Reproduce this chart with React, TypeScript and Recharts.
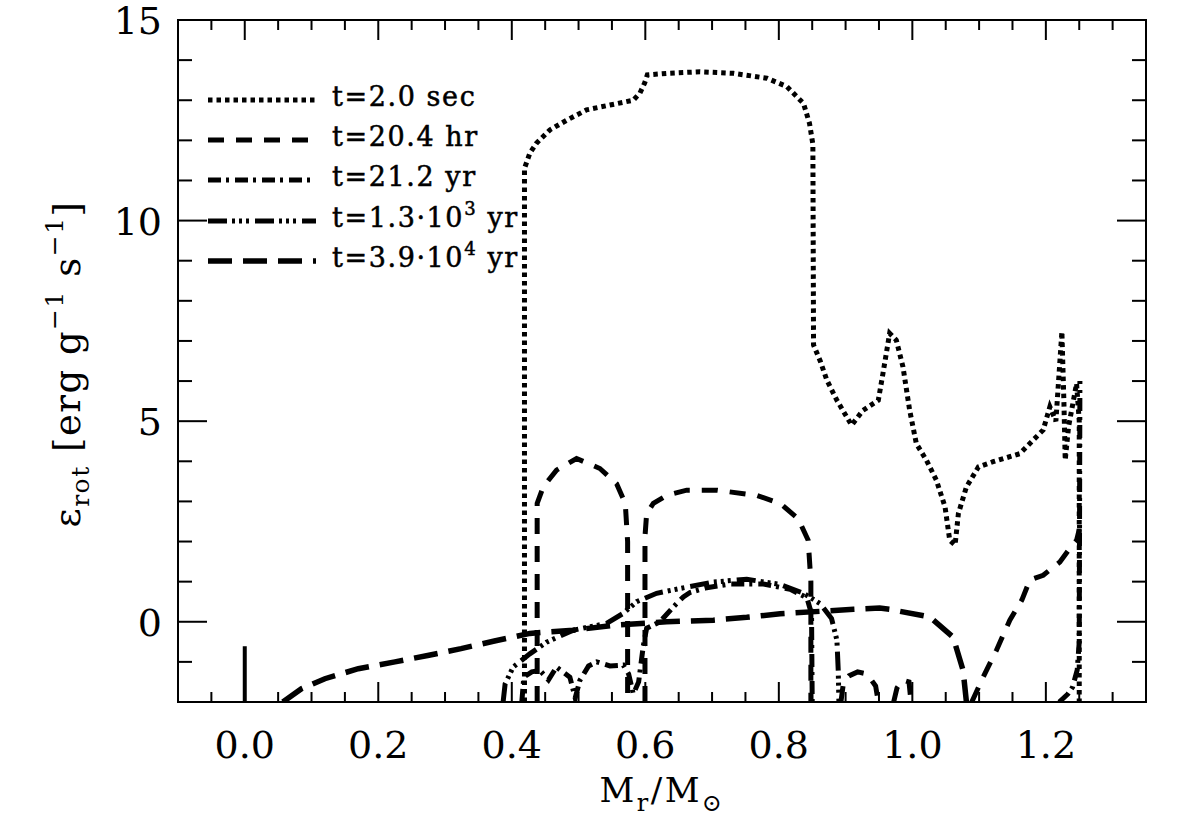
import React from "react";
import { LineChart, Line, XAxis, YAxis, ReferenceArea, Legend } from "recharts";

// ---- data ----
type P = { x: number; y: number | null };

const sec2: P[] = [
  { x: 0.419, y: -2 }, { x: 0.419, y: 11.3 }, { x: 0.427, y: 11.68 }, { x: 0.437, y: 11.93 },
  { x: 0.457, y: 12.26 }, { x: 0.482, y: 12.5 }, { x: 0.512, y: 12.76 }, { x: 0.547, y: 12.88 },
  { x: 0.582, y: 13.0 }, { x: 0.592, y: 13.18 }, { x: 0.599, y: 13.43 }, { x: 0.603, y: 13.63 },
  { x: 0.632, y: 13.67 }, { x: 0.682, y: 13.71 }, { x: 0.732, y: 13.67 }, { x: 0.782, y: 13.55 },
  { x: 0.812, y: 13.34 }, { x: 0.837, y: 12.92 }, { x: 0.846, y: 12.42 }, { x: 0.851, y: 11.9 },
  { x: 0.852, y: 6.9 }, { x: 0.862, y: 6.5 }, { x: 0.872, y: 6.02 }, { x: 0.887, y: 5.52 },
  { x: 0.909, y: 4.9 }, { x: 0.926, y: 5.27 }, { x: 0.949, y: 5.52 }, { x: 0.956, y: 6.19 },
  { x: 0.966, y: 7.19 }, { x: 0.976, y: 7.02 }, { x: 0.986, y: 6.35 }, { x: 0.996, y: 5.27 },
  { x: 1.006, y: 4.44 }, { x: 1.021, y: 4.03 }, { x: 1.036, y: 3.53 }, { x: 1.049, y: 2.86 },
  { x: 1.056, y: 2.03 }, { x: 1.064, y: 1.91 }, { x: 1.069, y: 2.7 }, { x: 1.081, y: 3.36 },
  { x: 1.099, y: 3.86 }, { x: 1.121, y: 3.99 }, { x: 1.161, y: 4.19 }, { x: 1.181, y: 4.53 },
  { x: 1.196, y: 4.78 }, { x: 1.206, y: 5.36 }, { x: 1.215, y: 5.0 }, { x: 1.224, y: 7.23 },
  { x: 1.227, y: 5.5 }, { x: 1.229, y: 4.03 }, { x: 1.234, y: 4.86 }, { x: 1.246, y: 5.94 },
  { x: 1.25, y: 5.0 }, { x: 1.25, y: -2 },
];

const hr20: P[] = [
  { x: 0.438, y: -2 }, { x: 0.438, y: 2.95 }, { x: 0.447, y: 3.36 }, { x: 0.467, y: 3.78 },
  { x: 0.497, y: 4.07 }, { x: 0.532, y: 3.82 }, { x: 0.557, y: 3.44 }, { x: 0.57, y: 2.95 },
  { x: 0.5735, y: 2.0 }, { x: 0.5735, y: -2 }, { x: 0.585, y: null },
  { x: 0.5995, y: -2 }, { x: 0.5995, y: 2.12 }, { x: 0.602, y: 2.7 }, { x: 0.612, y: 2.95 },
  { x: 0.632, y: 3.15 }, { x: 0.662, y: 3.28 }, { x: 0.707, y: 3.28 }, { x: 0.767, y: 3.15 },
  { x: 0.802, y: 2.95 }, { x: 0.829, y: 2.57 }, { x: 0.844, y: 2.03 }, { x: 0.848, y: 1.0 },
  { x: 0.848, y: -2 }, { x: 0.87, y: null },
  { x: 0.893, y: -2 }, { x: 0.897, y: -1.5 }, { x: 0.905, y: -1.35 }, { x: 0.918, y: -1.25 },
  { x: 0.932, y: -1.3 }, { x: 0.945, y: -1.6 }, { x: 0.949, y: -2 }, { x: 0.96, y: null },
  { x: 0.972, y: -2 }, { x: 0.977, y: -1.65 }, { x: 0.985, y: -1.45 }, { x: 0.995, y: -1.5 },
  { x: 0.998, y: -2 }, { x: 1.05, y: null },
  { x: 1.089, y: -2 }, { x: 1.106, y: -1.38 }, { x: 1.126, y: -0.71 }, { x: 1.146, y: 0.04 },
  { x: 1.164, y: 0.54 }, { x: 1.176, y: 1.04 }, { x: 1.196, y: 1.16 }, { x: 1.221, y: 1.49 },
  { x: 1.236, y: 1.83 }, { x: 1.246, y: 2.03 }, { x: 1.25, y: 2.3 },
];

const yr21: P[] = [
  { x: 0.415, y: -2 }, { x: 0.418, y: -1.38 }, { x: 0.43, y: -1.25 }, { x: 0.442, y: -1.21 },
  { x: 0.455, y: -1.45 }, { x: 0.467, y: -1.13 }, { x: 0.487, y: -1.38 }, { x: 0.495, y: -1.9 },
  { x: 0.502, y: -1.46 }, { x: 0.515, y: -1.1 }, { x: 0.527, y: -1.0 }, { x: 0.547, y: -1.1 },
  { x: 0.567, y: -1.08 }, { x: 0.575, y: -1.3 }, { x: 0.582, y: -1.8 }, { x: 0.59, y: -1.5 },
  { x: 0.597, y: -0.6 }, { x: 0.602, y: -0.16 }, { x: 0.622, y: 0.0 }, { x: 0.642, y: 0.37 },
  { x: 0.657, y: 0.62 }, { x: 0.667, y: 0.73 }, { x: 0.692, y: 0.85 }, { x: 0.727, y: 0.94 },
  { x: 0.777, y: 0.94 }, { x: 0.817, y: 0.81 }, { x: 0.842, y: 0.6 }, { x: 0.849, y: 0.2 },
  { x: 0.85, y: -2 }, { x: 1.0, y: null },
  { x: 1.22, y: -2 }, { x: 1.233, y: -1.8 }, { x: 1.24, y: -1.63 }, { x: 1.247, y: -1.2 },
  { x: 1.25, y: -0.5 }, { x: 1.251, y: 6.0 },
];

const yr1300: P[] = [
  { x: 0.387, y: -2 }, { x: 0.39, y: -1.55 }, { x: 0.402, y: -1.13 }, { x: 0.427, y: -0.8 },
  { x: 0.452, y: -0.51 }, { x: 0.492, y: -0.21 }, { x: 0.542, y: -0.04 }, { x: 0.567, y: 0.21 },
  { x: 0.587, y: 0.5 }, { x: 0.617, y: 0.71 }, { x: 0.652, y: 0.83 }, { x: 0.702, y: 0.99 },
  { x: 0.752, y: 1.06 }, { x: 0.802, y: 0.93 }, { x: 0.837, y: 0.71 }, { x: 0.862, y: 0.45 },
  { x: 0.879, y: 0.08 }, { x: 0.887, y: -0.46 }, { x: 0.889, y: -1.21 }, { x: 0.89, y: -2 },
];

const yr39000: P[] = [
  { x: 0.057, y: -2 }, { x: 0.085, y: -1.67 }, { x: 0.12, y: -1.42 }, { x: 0.17, y: -1.17 },
  { x: 0.225, y: -1.0 }, { x: 0.274, y: -0.84 }, { x: 0.324, y: -0.67 }, { x: 0.374, y: -0.48 },
  { x: 0.427, y: -0.29 }, { x: 0.492, y: -0.21 }, { x: 0.557, y: -0.08 }, { x: 0.632, y: 0.0 },
  { x: 0.702, y: 0.04 }, { x: 0.752, y: 0.11 }, { x: 0.802, y: 0.2 }, { x: 0.912, y: 0.31 },
  { x: 0.951, y: 0.34 }, { x: 0.966, y: 0.31 }, { x: 1.026, y: 0.12 }, { x: 1.061, y: -0.38 },
  { x: 1.076, y: -1.21 }, { x: 1.081, y: -2 },
];

const centreBar: P[] = [{ x: 0.0, y: -2 }, { x: 0.0, y: -0.61 }];

const X_TICKS = [
  -0.05, 0, 0.05, 0.1, 0.15, 0.2, 0.25, 0.3, 0.35, 0.4, 0.45, 0.5, 0.55, 0.6, 0.65, 0.7,
  0.75, 0.8, 0.85, 0.9, 0.95, 1.0, 1.05, 1.1, 1.15, 1.2, 1.25, 1.3,
];
const X_MAJOR = [0, 0.2, 0.4, 0.6, 0.8, 1.0, 1.2];
const Y_TICKS = [-1, 0, 1, 2, 3, 4, 5, 6, 7, 8, 9, 10, 11, 12, 13, 14, 15];
const Y_MAJOR = [0, 5, 10, 15];

const LEGEND_LABELS = ["t=2.0 sec", "t=20.4 hr", "t=21.2 yr", "t=1.3·10", "t=3.9·10"];
const LEGEND_SUP = ["", "", "", "3", "4"];

// ---- styling / layout ----
const W = 1179;
const H = 825;
const TOP = 20;
const BOTTOM = 702;
const LEFT = 178;
const RIGHT = 1146;
const FONT = "'DejaVu Serif', serif";

const DASHES = [
  { dash: "4.5 4", width: 5 },
  { dash: "16 12", width: 5 },
  { dash: "13 5 3 6", width: 5 },
  { dash: "19 5 3 4 3 4 3 6", width: 5 },
  { dash: "24 11", width: 5.5 },
];

const isIn = (arr: number[], v: number) => arr.some((a) => Math.abs(a - v) < 1e-6);

const XTick = (props: any) => {
  const { x, payload } = props;
  const v = payload.value as number;
  const major = isIn(X_MAJOR, v);
  const len = major ? 20 : 10;
  return (
    <g>
      <line x1={x} x2={x} y1={BOTTOM} y2={BOTTOM - len} stroke="#000" strokeWidth={2} />
      <line x1={x} x2={x} y1={TOP} y2={TOP + len} stroke="#000" strokeWidth={2} />
      {major && (
        <text x={x} y={758} textAnchor="middle" fontFamily={FONT} fontSize={38} fill="#000">
          {v.toFixed(1)}
        </text>
      )}
    </g>
  );
};

const YTick = (props: any) => {
  const { y, payload } = props;
  const v = payload.value as number;
  const major = isIn(Y_MAJOR, v);
  const len = major ? 29 : 14;
  return (
    <g>
      {v < 15 && <line x1={LEFT} x2={LEFT + len} y1={y} y2={y} stroke="#000" strokeWidth={2} />}
      {v < 15 && <line x1={RIGHT - len} x2={RIGHT} y1={y} y2={y} stroke="#000" strokeWidth={2} />}
      {major && (
        <text x={162} y={y + 14} textAnchor="end" fontFamily={FONT} fontSize={38} fill="#000">
          {String(v)}
        </text>
      )}
    </g>
  );
};

const LegendBox = () => {
  const rows = [100, 140, 180, 221, 261];
  return (
    <svg width={520} height={300} style={{ position: "absolute", left: 0, top: 0, overflow: "visible" }}>
      {rows.map((ry, i) => (
        <g key={i}>
          <line x1={208} x2={316} y1={ry} y2={ry} stroke="#000" strokeWidth={DASHES[i].width} strokeDasharray={DASHES[i].dash} />
          <text x={332} y={ry + 6} fontFamily={FONT} fontSize={27} letterSpacing={1.6} fill="#000" stroke="#000" strokeWidth={0.5}>
            {LEGEND_LABELS[i]}
            {LEGEND_SUP[i] && (
              <tspan fontSize={18} dy={-12}>{LEGEND_SUP[i]}</tspan>
            )}
            {LEGEND_SUP[i] && <tspan dy={12}>{" yr"}</tspan>}
          </text>
        </g>
      ))}
    </svg>
  );
};

export default function App() {
  const series = [sec2, hr20, yr21, yr1300, yr39000];
  return (
    <div style={{ position: "absolute", left: 0, top: 0, width: W, height: H, background: "#fff" }}>
      <LineChart width={W} height={H} margin={{ top: 20, right: 33, left: 118, bottom: 83 }}>
        <XAxis
          dataKey="x"
          type="number"
          domain={[-0.1, 1.35]}
          allowDataOverflow
          ticks={X_TICKS}
          interval={0}
          tick={<XTick />}
          tickLine={false}
          axisLine={false}
          height={40}
        />
        <YAxis
          type="number"
          domain={[-2, 15]}
          allowDataOverflow
          ticks={Y_TICKS}
          interval={0}
          tick={<YTick />}
          tickLine={false}
          axisLine={false}
          width={60}
        />
        <ReferenceArea x1={-0.1} x2={1.35} y1={-2} y2={15} fill="none" fillOpacity={0} stroke="#000" strokeWidth={2} ifOverflow="visible" />
        {series.map((d, i) => (
          <Line
            key={i}
            data={d}
            dataKey="y"
            type="linear"
            stroke="#000"
            strokeWidth={DASHES[i].width}
            strokeDasharray={DASHES[i].dash}
            dot={false}
            activeDot={false}
            connectNulls={false}
            isAnimationActive={false}
            strokeLinecap="butt"
          />
        ))}
        <Line data={centreBar} dataKey="y" type="linear" stroke="#000" strokeWidth={4} dot={false} activeDot={false} isAnimationActive={false} />
        <Legend
          layout="horizontal"
          verticalAlign="middle"
          align="center"
          content={() => <LegendBox />}
          wrapperStyle={{ position: "absolute", left: 0, top: 0, width: 520, height: 300 }}
        />
      </LineChart>
      <svg width={W} height={H} style={{ position: "absolute", left: 0, top: 0, pointerEvents: "none" }}>
        <text x={662} y={802} textAnchor="middle" fontFamily={FONT} fontSize={34} letterSpacing={2.5} fill="#000">
          M<tspan fontSize={24} dy={9}>r</tspan>
          <tspan dy={-9}>/M</tspan>
          <tspan fontSize={24} dy={9}>⊙</tspan>
        </text>
        <text
          x={0}
          y={0}
          transform="translate(80,364) rotate(-90)"
          textAnchor="middle"
          fontFamily={FONT}
          fontSize={37}
          letterSpacing={1.5}
          fill="#000"
        >
          ε<tspan fontSize={25} dy={9}>rot</tspan>
          <tspan dy={-9}>{" [erg g"}</tspan>
          <tspan fontSize={25} dy={-17}>−1</tspan>
          <tspan dy={17}>{" s"}</tspan>
          <tspan fontSize={25} dy={-17}>−1</tspan>
          <tspan dy={17}>]</tspan>
        </text>
      </svg>
    </div>
  );
}
